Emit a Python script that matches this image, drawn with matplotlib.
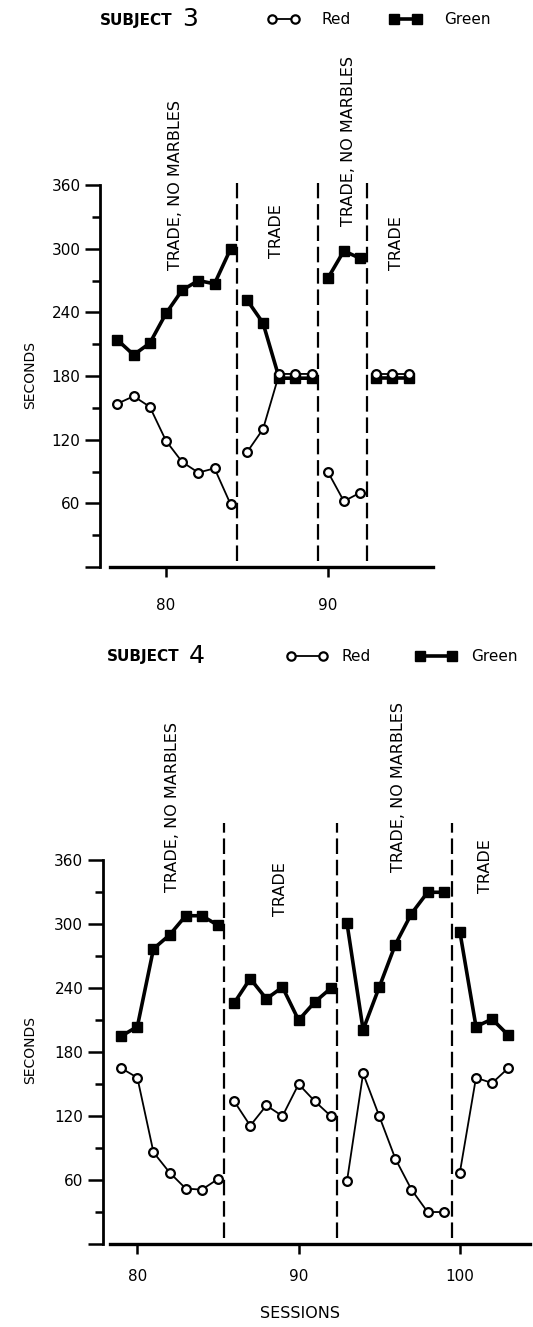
import matplotlib
import matplotlib.pyplot as plt
from matplotlib.lines import Line2D

matplotlib.use("Agg")

# ---- Subject 3 ----
s3_sessions = [list(range(77, 85)), list(range(85, 90)), list(range(90, 93)), list(range(93, 96))]
s3_red = [[154, 161, 151, 119, 99, 89, 93, 59],
          [108, 130, 182, 182, 182],
          [90, 62, 70],
          [182, 182, 182]]
s3_green = [[214, 200, 211, 239, 261, 270, 267, 300],
            [252, 230, 178, 178, 178],
            [272, 298, 291],
            [178, 178, 178]]
s3_bounds = [84.4, 89.4, 92.45]
s3_labels = ["TRADE, NO MARBLES", "TRADE", "TRADE, NO MARBLES", "TRADE"]
s3_label_x = [80.56, 86.85, 91.3, 94.26]
s3_label_y = [280, 291, 321, 280]

# ---- Subject 4 ----
s4_sessions = [list(range(79, 86)), list(range(86, 93)), list(range(93, 100)), list(range(100, 104))]
s4_red = [[165, 156, 86, 67, 52, 51, 61],
          [134, 111, 130, 120, 150, 134, 120],
          [59, 160, 120, 80, 51, 30, 30],
          [67, 156, 151, 165]]
s4_green = [[195, 204, 277, 290, 308, 308, 299],
            [226, 249, 230, 241, 210, 227, 240],
            [301, 201, 241, 281, 310, 330, 330],
            [293, 204, 211, 196]]
s4_bounds = [85.35, 92.36, 99.5]
s4_labels = ["TRADE, NO MARBLES", "TRADE", "TRADE, NO MARBLES", "TRADE"]
s4_label_x = [82.15, 88.85, 96.2, 101.6]
s4_label_y = [330, 308, 349, 329]

y_major = [0, 60, 120, 180, 240, 300, 360]
y_major_labels = ["", "60", "120", "180", "240", "300", "360"]
y_minor = [30, 90, 150, 210, 270, 330]

W, H = 533, 1327


def px_rect(left, right, bottom, top):
    """Axes rect in figure fractions from pixel edges."""
    return [left / W, 1 - bottom / H, (right - left) / W, (bottom - top) / H]


def draw_panel(ax, sessions, red, green, bounds, labels, lx, ly,
               xlim, ylim, xspan, xticks, dash_top, xpad):
    for x, r, g in zip(sessions, red, green):
        ax.plot(x, g, "-s", color="black", ms=6.5, lw=2.6, zorder=2)
        ax.plot(x, r, "-o", color="black", mfc="white", mec="black",
                ms=6.3, mew=1.6, lw=1.3, zorder=3)

    ax.vlines(bounds, 6, dash_top, colors="black", lw=1.6,
              linestyles=(0, (7, 2.6)), clip_on=False)

    for text, x, y in zip(labels, lx, ly):
        ax.text(x, y, text, rotation=90, ha="center", va="bottom",
                fontsize=11.5, clip_on=False)

    ax.set_xlim(*xlim)
    ax.set_ylim(*ylim)
    for side in ("top", "right"):
        ax.spines[side].set_visible(False)
    ax.spines["left"].set_bounds(0, 360)
    ax.spines["bottom"].set_bounds(*xspan)
    ax.spines["left"].set_linewidth(2)
    ax.spines["bottom"].set_linewidth(2.4)

    ax.set_yticks(y_major)
    ax.set_yticklabels(y_major_labels)
    ax.set_yticks(y_minor, minor=True)
    ax.tick_params(axis="y", which="major", length=11, width=1.8,
                   labelsize=11, pad=3)
    ax.tick_params(axis="y", which="minor", length=6, width=1.8)
    ax.set_xticks(xticks)
    ax.tick_params(axis="x", which="major", length=7, width=1.8,
                   labelsize=11, pad=xpad)


fig = plt.figure(figsize=(W / 100, H / 100), dpi=100)

ax1 = fig.add_axes(px_rect(100, 433, 567, 183))
draw_panel(ax1, s3_sessions, s3_red, s3_green, s3_bounds, s3_labels,
           s3_label_x, s3_label_y, (75.92, 96.51), (0, 362), (76.54, 96.51),
           [80, 90], 362, 15)

ax2 = fig.add_axes(px_rect(102.7, 530, 1244, 823))
draw_panel(ax2, s4_sessions, s4_red, s4_green, s4_bounds, s4_labels,
           s4_label_x, s4_label_y, (77.85, 104.35), (0, 395), (78.3, 104.35),
           [80, 90, 100], 395, 11)

# headers and legends
handles = [
    Line2D([], [], color="black", lw=1.3, marker="o", mfc="white",
           mec="black", ms=6, mew=1.6),
    Line2D([], [], color="black", lw=2.6, marker="s", ms=6.5),
]
# (subject, header x, header y, legend x, handlelength, textpad, colspacing)
headers = [("3", 100, 20, 267, 2.1, 1.45, 2.55),
           ("4", 107, 657, 286, 2.7, 0.95, 2.9)]
for subj, sx, sy, lx, hlen, tpad, cspace in headers:
    fig.text(sx / W, 1 - sy / H, "SUBJECT", fontsize=11, fontweight="bold",
             ha="left", va="center")
    fig.text((sx + 82) / W, 1 - (sy - 1) / H, subj, fontsize=18,
             ha="left", va="center")
    fig.legend(handles, ["Red", "Green"], loc="center left",
               bbox_to_anchor=(lx / W, 1 - sy / H), ncol=2, frameon=False,
               numpoints=2, handlelength=hlen, handletextpad=tpad,
               columnspacing=cspace, fontsize=11, borderpad=0,
               borderaxespad=0)

fig.text(30 / W, 1 - 375 / H, "SECONDS", rotation=90, ha="center",
         va="center", fontsize=10)
fig.text(30 / W, 1 - 1050 / H, "SECONDS", rotation=90, ha="center",
         va="center", fontsize=10)
fig.text(300 / W, 1 - 1313 / H, "SESSIONS", ha="center", va="center",
         fontsize=11.5)

fig.savefig("out.png", dpi=100)
